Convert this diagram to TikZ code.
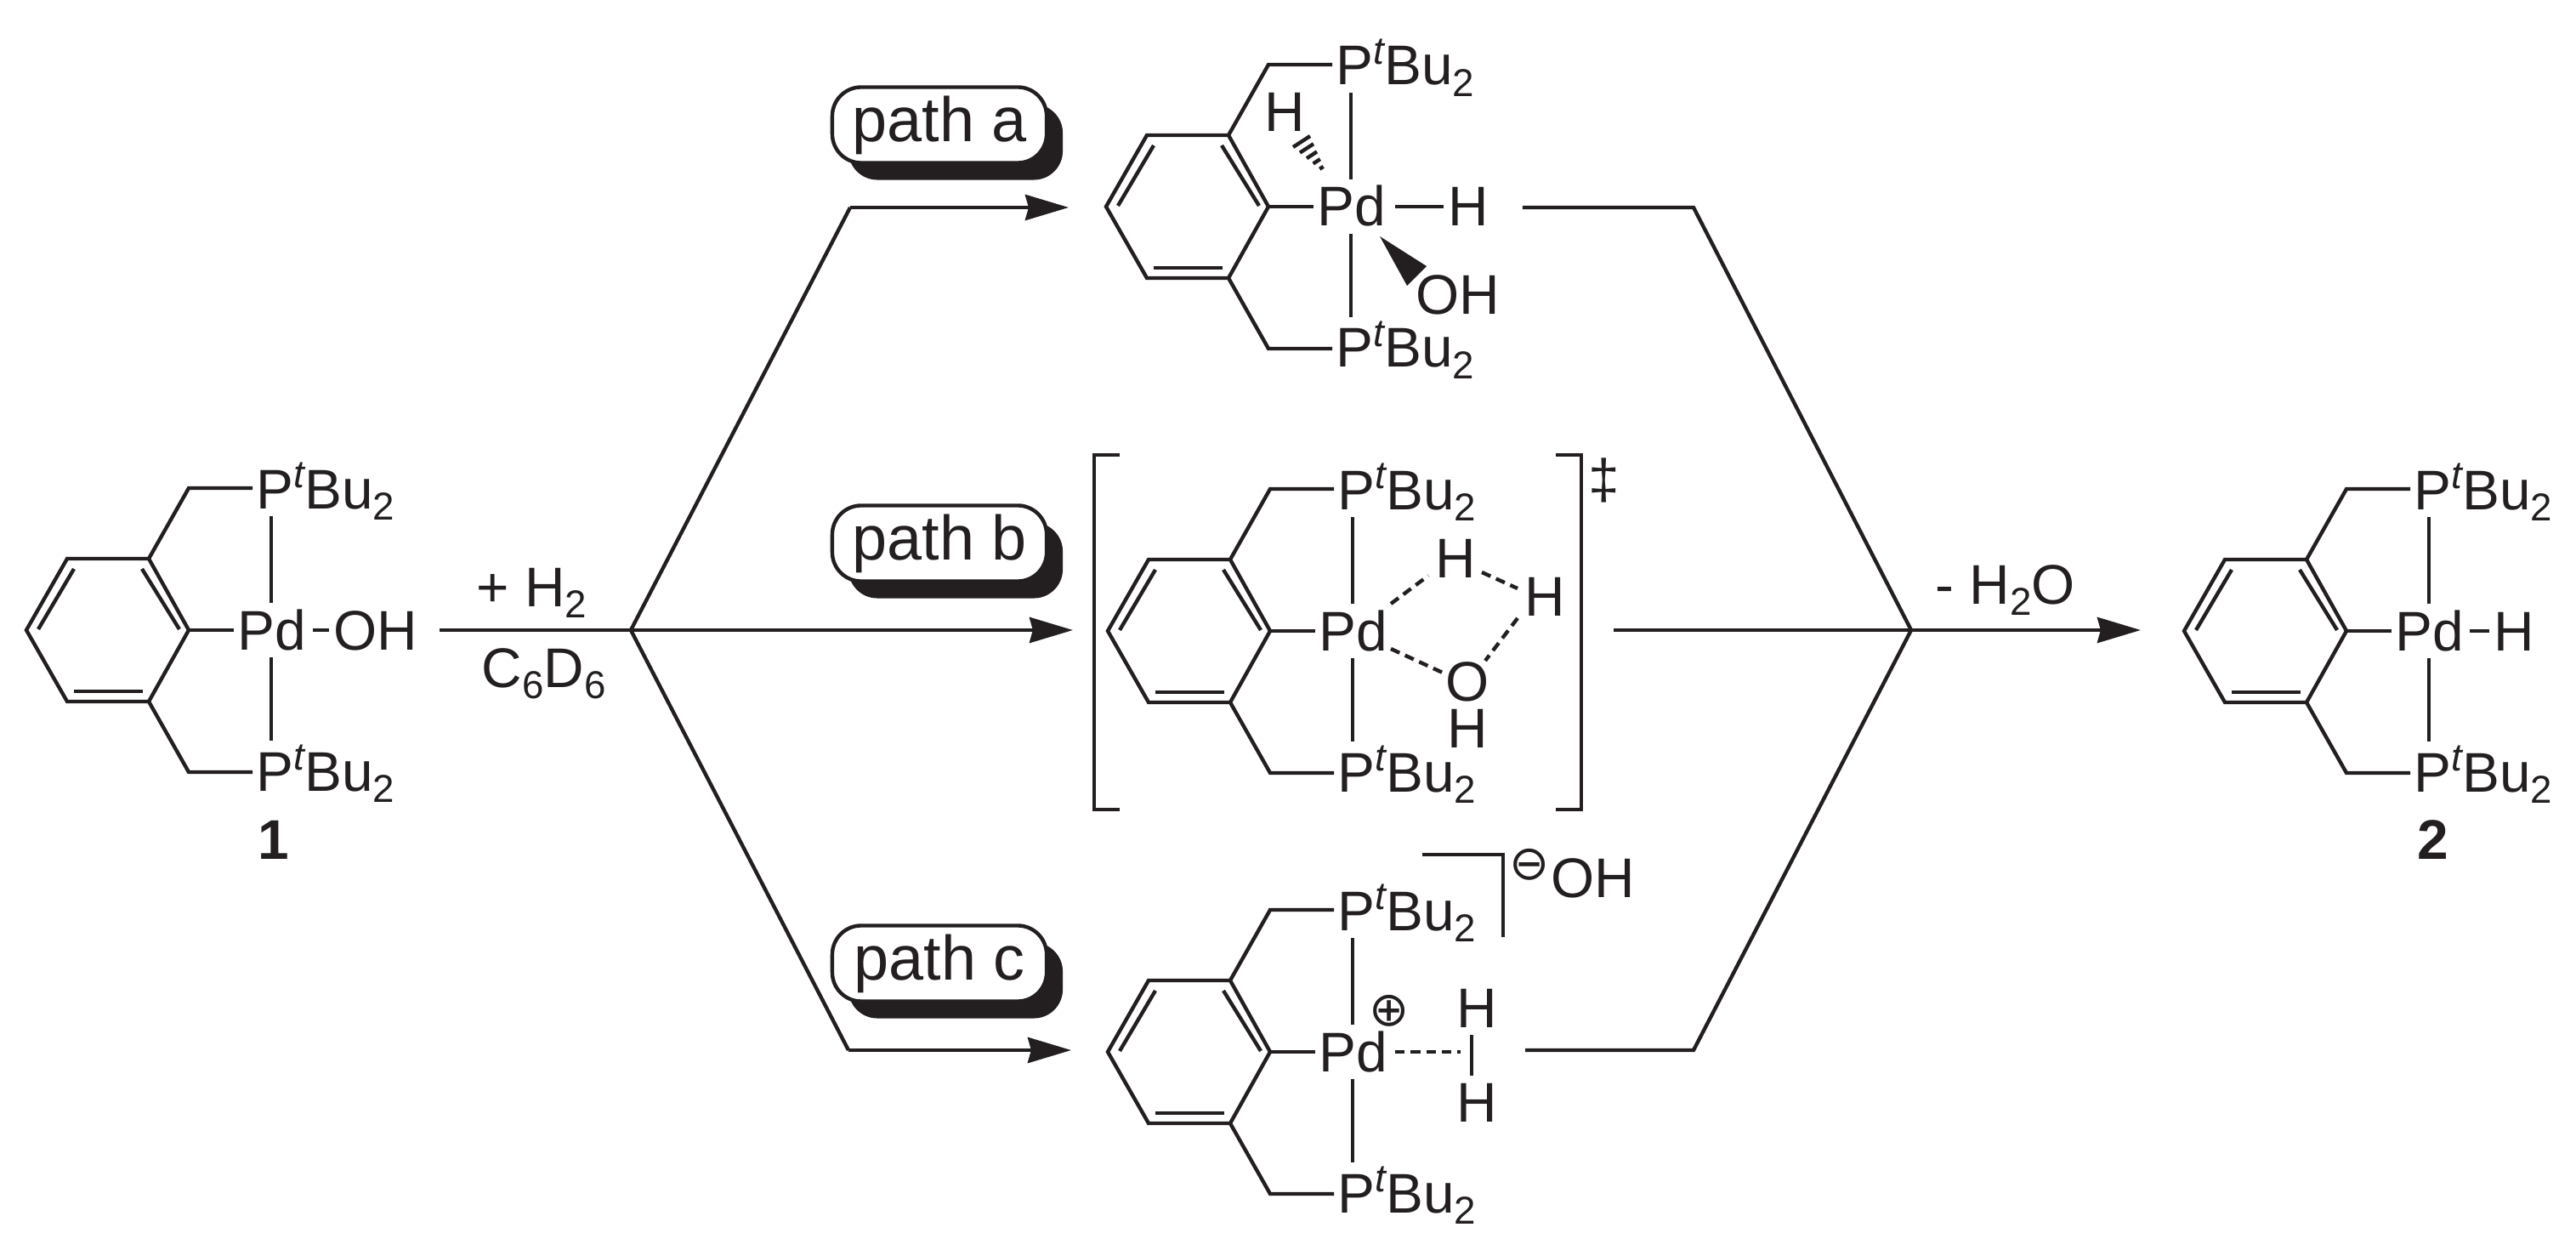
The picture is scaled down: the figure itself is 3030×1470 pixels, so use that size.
\documentclass[tikz,border=0pt]{standalone}
\usepackage{fontspec}
\setmainfont{Liberation Sans}
\newfontfamily\symfont{DejaVu Sans}
\usetikzlibrary{arrows.meta,calc,shadows}

\definecolor{ink}{HTML}{231F20}

\newcommand{\hightxt}[1]{\raisebox{0.37em}{\fontsize{13}{13}\selectfont #1}}
\newcommand{\lowtxt}[1]{\raisebox{-0.21em}{\fontsize{13}{13}\selectfont #1}}
\newcommand{\ptbu}{P\hightxt{\itshape t}Bu\lowtxt{2}}

\tikzset{
  bond/.style={line width=1.25pt},
  dashbond/.style={line width=1.25pt, dash pattern=on 3.2pt off 2pt},
  rxn/.style={line width=1.25pt},
  rxnarrow/.style={line width=1.25pt, -{Stealth[length=0.51cm,width=0.3cm,inset=0.04cm]}},
  chem/.style={font=\fontsize{18.7}{20}\selectfont, inner sep=0pt, anchor=base west},
  chemc/.style={font=\fontsize{18.7}{20}\selectfont, inner sep=0pt},
  charge/.style={font=\fontsize{16}{16}\selectfont\symfont, inner sep=0pt},
  pathlabel/.style={draw, fill=white, line width=1.25pt, rounded corners=0.34cm,
    minimum width=2.52cm, minimum height=0.89cm, inner sep=0pt,
    font=\fontsize{21}{22}\selectfont,
    drop shadow={shadow xshift=0.19cm, shadow yshift=-0.20cm, fill=ink, opacity=1}},
  pics/pincer/.style={code={
    \coordinate (-c) at (0,0);
    \coordinate (-left) at (-191,0);
    % ring with its inner lines
    \draw[bond] (-47,-84) -- (0,0) -- (-47,84) -- (-143,84) -- (-191,0) -- (-143,-84) -- cycle;
    \draw[bond] (-135,-72) -- (-177,-1);
    \draw[bond] (-55,-72) -- (-11,-1);
    \draw[bond] (-135,72) -- (-54,72);
    % arms
    \draw[bond] (-47,-84) -- (0,-167) -- (75,-167);
    \draw[bond] (-47,84) -- (0,167) -- (75,167);
    \draw[bond] (0,0) -- (53,0);
    \draw[bond] (97,-134) -- (97,-32);
    \draw[bond] (97,32) -- (97,130);
    \node[chem] (-ptop) at (79,-143) {\ptbu};
    \node[chem] (-pbot) at (79,189) {\ptbu};
    \node[chem] (-pd) at (57,23) {Pd};
  }}
}

\begin{document}
\begin{tikzpicture}[x=0.01cm, y=-0.01cm, color=ink]
\useasboundingbox (0,0) rectangle (3030,1470);

% Branch points and corners
\coordinate (branchL) at (742,741);
\coordinate (branchR) at (2248,741);
\coordinate (cornAL) at (1000,244);
\coordinate (cornAR) at (1992,244);
\coordinate (cornCL) at (998,1235);
\coordinate (cornCR) at (1992,1235);

% Compound 1
\pic (lig1) at (222,741) {pincer};
\node[chem] (oh1) at (392,764) {OH};
\node[chem, font=\fontsize{18.7}{20}\selectfont\bfseries] (num1) at (303,1010) {1};
\draw[bond, shorten <=0.07cm, shorten >=0.05cm] (lig1-c -| lig1-pd.east) -- (lig1-c -| oh1.west);
\node[chem] (addH) at (560,713) {+ H\lowtxt{2}};
\node[chem] (solv) at (566,808) {C\lowtxt{6}D\lowtxt{6}};
\draw[rxn, shorten <=0.25cm] (branchL -| oh1.east) -- (branchL);

% Path a
\pic (liga) at (1492,243) {pincer};
\node[chem] (ha) at (1703,266) {H};
\node[chem] (hb) at (1487,155) {H};
\node[chem] (oha) at (1665,370) {OH};
\draw[bond, shorten <=0.10cm, shorten >=0.05cm] (liga-c -| liga-pd.east) -- (liga-c -| ha.west);
\fill (1623,278) -- (1678,313) -- (1655,336) -- cycle;
\coordinate (hashtip) at (1561,206);
\coordinate (hashA) at (1541,160);
\coordinate (hashB) at (1521,173);
\foreach \t in {0.22,0.41,0.6,0.8,1} {
  \draw[bond] ($(hashtip)!\t!(hashA)$) -- ($(hashtip)!\t!(hashB)$);
}
\node[pathlabel] (patha) at (1105,147) {path a};
\draw[rxn] (branchL) -- (cornAL);
\draw[rxnarrow, shorten >=0.44cm] (cornAL) -- (cornAL -| liga-left);
\draw[rxn, shorten <=0.39cm] (cornAR -| ha.east) -- (cornAR) -- (branchR);

% Path b
\pic (ligb) at (1494,742) {pincer};
\node[chemc] (hc) at (1712,657) {H};
\node[chemc] (hd) at (1817,702) {H};
\node[chemc] (ob) at (1726,802) {O};
\node[chemc] (he) at (1726,857) {H};
\draw[dashbond] (1636,710) -- (1680,677);
\draw[dashbond] (1743,673) -- (1785,692);
\draw[dashbond] (1785,727) -- (1747,777);
\draw[dashbond] (1636,763) -- (1699,792);
% Brackets
\draw[bond] (1317,535) -- (1287,535) -- (1287,952) -- (1317,952);
\draw[bond] (1830,535) -- (1860,535) -- (1860,952) -- (1830,952);
\node[chemc] (ddag) at (1887,565) {‡};
\node[pathlabel] (pathb) at (1105,639) {path b};
\draw[rxnarrow, shorten >=0.41cm] (branchL) -- (branchL -| ligb-left);
\coordinate (outb) at (1898,741);
\draw[rxn] (outb) -- (branchR);

% Path c
\pic (ligc) at (1494,1237) {pincer};
\node[chemc] (hf) at (1737,1186) {H};
\node[chemc] (hg) at (1737,1297) {H};
\node[chemc] (ohc) at (1874,1033) {OH};
\node[charge] (plus) at (1634,1189) {⊕};
\node[charge] (minus) at (1799,1017) {⊖};
\draw[dashbond] (1641,1237) -- (1718,1237);
\draw[bond] (1731,1217) -- (1731,1265);
\draw[bond] (1673,1005) -- (1768,1005) -- (1768,1102);
\node[pathlabel] (pathc) at (1105,1133) {path c};
\draw[rxn] (branchL) -- (cornCL);
\draw[rxnarrow, shorten >=0.43cm] (cornCL) -- (cornCL -| ligc-left);
\coordinate (outc) at (1794,1235);
\draw[rxn] (outc) -- (cornCR) -- (branchR);

% Compound 2
\pic (lig2) at (2760,742) {pincer};
\node[chem] (h2) at (2933,765) {H};
\node[chem, font=\fontsize{18.7}{20}\selectfont\bfseries] (num2) at (2843,1010) {2};
\draw[bond, shorten <=0.06cm, shorten >=0.05cm] (lig2-c -| lig2-pd.east) -- (lig2-c -| h2.west);
\node[chem] (lossw) at (2276,710) {- H\lowtxt{2}O};
\draw[rxnarrow, shorten >=0.51cm] (branchR) -- (branchR -| lig2-left);

\end{tikzpicture}
\end{document}
